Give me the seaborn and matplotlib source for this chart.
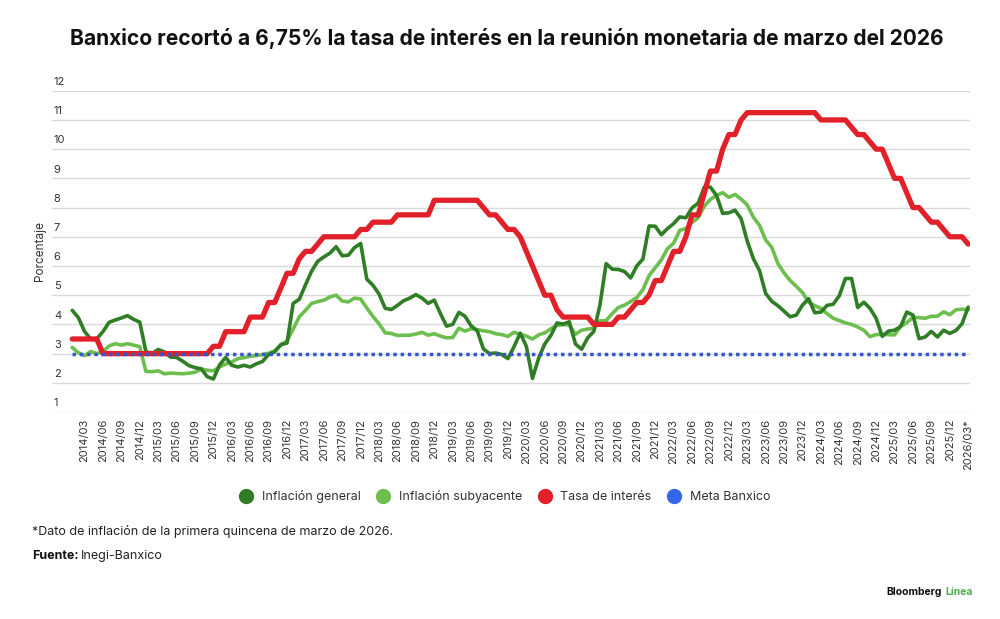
import pandas as pd
import seaborn as sns
import matplotlib.pyplot as plt
from matplotlib.lines import Line2D

# Monthly data, 2014/01 to 2026/03 (March 2026 inflation = first fortnight)
inflacion_general = [
    4.48, 4.23, 3.76, 3.50, 3.51, 3.75, 4.07, 4.15, 4.22, 4.30, 4.17, 4.08,  # 2014
    3.07, 3.00, 3.14, 3.06, 2.88, 2.87, 2.74, 2.59, 2.52, 2.48, 2.21, 2.13,  # 2015
    2.61, 2.87, 2.60, 2.54, 2.60, 2.54, 2.65, 2.73, 2.97, 3.06, 3.31, 3.36,  # 2016
    4.72, 4.86, 5.35, 5.82, 6.16, 6.31, 6.44, 6.66, 6.35, 6.37, 6.63, 6.77,  # 2017
    5.55, 5.34, 5.04, 4.55, 4.51, 4.65, 4.81, 4.90, 5.02, 4.90, 4.72, 4.83,  # 2018
    4.37, 3.94, 4.00, 4.41, 4.28, 3.95, 3.78, 3.16, 3.00, 3.02, 2.97, 2.83,  # 2019
    3.24, 3.70, 3.25, 2.15, 2.84, 3.33, 3.62, 4.05, 4.01, 4.09, 3.33, 3.15,  # 2020
    3.54, 3.76, 4.67, 6.08, 5.89, 5.88, 5.81, 5.59, 6.00, 6.24, 7.37, 7.36,  # 2021
    7.07, 7.28, 7.45, 7.68, 7.65, 7.99, 8.15, 8.70, 8.70, 8.41, 7.80, 7.82,  # 2022
    7.91, 7.62, 6.85, 6.25, 5.84, 5.06, 4.79, 4.64, 4.45, 4.26, 4.32, 4.66,  # 2023
    4.88, 4.40, 4.42, 4.65, 4.69, 4.98, 5.57, 5.57, 4.58, 4.76, 4.55, 4.21,  # 2024
    3.59, 3.77, 3.80, 3.93, 4.42, 4.32, 3.51, 3.57, 3.76, 3.57, 3.80, 3.69,  # 2025
    3.79, 4.02, 4.59,                                                        # 2026
]
inflacion_subyacente = [
    3.21, 3.03, 2.93, 3.07, 3.00, 3.07, 3.26, 3.34, 3.29, 3.34, 3.29, 3.24,
    2.39, 2.38, 2.41, 2.31, 2.33, 2.32, 2.31, 2.33, 2.36, 2.47, 2.43, 2.41,
    2.54, 2.64, 2.71, 2.83, 2.86, 2.91, 2.93, 2.97, 3.01, 3.10, 3.29, 3.44,
    3.84, 4.26, 4.48, 4.72, 4.78, 4.83, 4.94, 5.00, 4.80, 4.77, 4.90, 4.87,
    4.56, 4.27, 4.02, 3.71, 3.69, 3.62, 3.63, 3.63, 3.67, 3.73, 3.63, 3.68,
    3.60, 3.54, 3.55, 3.87, 3.77, 3.85, 3.82, 3.78, 3.75, 3.68, 3.65, 3.59,
    3.73, 3.66, 3.60, 3.50, 3.64, 3.71, 3.85, 3.97, 3.99, 3.98, 3.66, 3.80,
    3.84, 3.87, 4.12, 4.13, 4.37, 4.58, 4.66, 4.78, 4.92, 5.19, 5.67, 5.94,
    6.21, 6.59, 6.78, 7.22, 7.28, 7.49, 7.65, 8.05, 8.28, 8.42, 8.51, 8.35,
    8.45, 8.29, 8.09, 7.67, 7.39, 6.89, 6.64, 6.08, 5.76, 5.50, 5.30, 5.09,
    4.76, 4.64, 4.55, 4.37, 4.21, 4.13, 4.05, 4.00, 3.91, 3.80, 3.58, 3.65,
    3.66, 3.65, 3.64, 3.93, 4.06, 4.24, 4.23, 4.21, 4.28, 4.28, 4.43, 4.33,
    4.50, 4.52, 4.50,
]
tasa_interes = [
    3.50, 3.50, 3.50, 3.50, 3.50, 3.00, 3.00, 3.00, 3.00, 3.00, 3.00, 3.00,
    3.00, 3.00, 3.00, 3.00, 3.00, 3.00, 3.00, 3.00, 3.00, 3.00, 3.00, 3.25,
    3.25, 3.75, 3.75, 3.75, 3.75, 4.25, 4.25, 4.25, 4.75, 4.75, 5.25, 5.75,
    5.75, 6.25, 6.50, 6.50, 6.75, 7.00, 7.00, 7.00, 7.00, 7.00, 7.00, 7.25,
    7.25, 7.50, 7.50, 7.50, 7.50, 7.75, 7.75, 7.75, 7.75, 7.75, 7.75, 8.25,
    8.25, 8.25, 8.25, 8.25, 8.25, 8.25, 8.25, 8.00, 7.75, 7.75, 7.50, 7.25,
    7.25, 7.00, 6.50, 6.00, 5.50, 5.00, 5.00, 4.50, 4.25, 4.25, 4.25, 4.25,
    4.25, 4.00, 4.00, 4.00, 4.00, 4.25, 4.25, 4.50, 4.75, 4.75, 5.00, 5.50,
    5.50, 6.00, 6.50, 6.50, 7.00, 7.75, 7.75, 8.50, 9.25, 9.25, 10.00, 10.50,
    10.50, 11.00, 11.25, 11.25, 11.25, 11.25, 11.25, 11.25, 11.25, 11.25, 11.25, 11.25,
    11.25, 11.25, 11.00, 11.00, 11.00, 11.00, 11.00, 10.75, 10.50, 10.50, 10.25, 10.00,
    10.00, 9.50, 9.00, 9.00, 8.50, 8.00, 8.00, 7.75, 7.50, 7.50, 7.25, 7.00,
    7.00, 7.00, 6.75,
]
meta_banxico = 3.0
y_ticks = list(range(1, 13))

meses = pd.period_range("2014-01", periods=len(tasa_interes), freq="M")
df = pd.DataFrame({
    "mes": range(len(meses)),
    "general": inflacion_general,
    "subyacente": inflacion_subyacente,
    "tasa": tasa_interes,
    "meta": [meta_banxico] * len(meses),
})

# tick every quarter starting in March
tick_pos = list(range(2, len(meses), 3))
tick_lab = [meses[i].strftime("%Y/%m") for i in tick_pos]
tick_lab[-1] += "*"

sns.set_style("white")
plt.rcParams["font.family"] = ["Inter", "DejaVu Sans"]

c_general = "#2f7d24"
c_sub = "#6cbf4e"
c_tasa = "#e1202a"
c_meta = "#3556cf"

fig = plt.figure(figsize=(10, 6.19), dpi=100)
ax = fig.add_axes([0.052, 0.3344, 0.918, 0.519])

sns.lineplot(data=df, x="mes", y="subyacente", color=c_sub, lw=2.6, ax=ax)
sns.lineplot(data=df, x="mes", y="general", color=c_general, lw=2.6, ax=ax)
sns.lineplot(data=df, x="mes", y="tasa", color=c_tasa, lw=3.8, ax=ax)
sns.lineplot(data=df, x="mes", y="meta", color=c_meta, lw=2.5,
             linestyle=(0, (1, 1.1)), ax=ax)
for l in ax.lines:
    l.set_dash_capstyle("butt")

ax.set_xlim(-3.3, 146.3)
ax.set_ylim(1, 12)
ax.set_yticks(y_ticks)
ax.yaxis.grid(True, color="#d9d9d9", lw=1)
ax.set_axisbelow(True)
ax.tick_params(axis="y", length=0, labelleft=False)
for v in y_ticks:
    ax.text(0.002, v + 0.13, str(v), transform=ax.get_yaxis_transform(),
            ha="left", va="bottom", fontsize=8, color="#333333")

ax.set_xticks(tick_pos)
ax.set_xticklabels(tick_lab, rotation=90, fontsize=8, color="#333333")
ax.tick_params(axis="x", length=0, pad=5)
ax.set_xlabel("")
ax.set_ylabel("Porcentaje", fontsize=8.5, color="#333333", labelpad=2)
ax.yaxis.set_label_coords(-0.007, 0.5)
sns.despine(ax=ax, left=True, bottom=True)

fig.suptitle("Banxico recortó a 6,75% la tasa de interés en la reunión monetaria de marzo del 2026",
             x=0.507, y=0.955, fontsize=15.1, fontweight="bold", color="#111111")

handles = [Line2D([], [], marker="o", ls="", ms=10, color=c) for c in (c_general, c_sub, c_tasa, "#3366e8")]
fig.legend(handles, ["Inflación general", "Inflación subyacente", "Tasa de interés", "Meta Banxico"],
           loc="center", bbox_to_anchor=(0.502, 0.198), ncol=4, frameon=False,
           fontsize=9, handletextpad=0.25, columnspacing=0.8, labelcolor="#333333")

fig.text(0.032, 0.142, "*Dato de inflación de la primera quincena de marzo de 2026.",
         fontsize=9, color="#222222", va="center")
fuente = fig.text(0.032, 0.102, "Fuente:", fontsize=9, fontweight="bold", color="#111111", va="center")
ax.annotate("Inegi-Banxico", xy=(1, 0.5), xycoords=fuente, xytext=(2, 0), textcoords="offset points",
            va="center", fontsize=9, color="#222222", annotation_clip=False)
marca = fig.text(0.886, 0.044, "Bloomberg", fontsize=7.5, fontweight="bold", color="#111111", va="center")
ax.annotate("Línea", xy=(1, 0.5), xycoords=marca, xytext=(2.5, 0), textcoords="offset points",
            va="center", fontsize=7.5, fontweight="bold", color="#4caf50", annotation_clip=False)

fig.savefig("out.png", dpi=100)
